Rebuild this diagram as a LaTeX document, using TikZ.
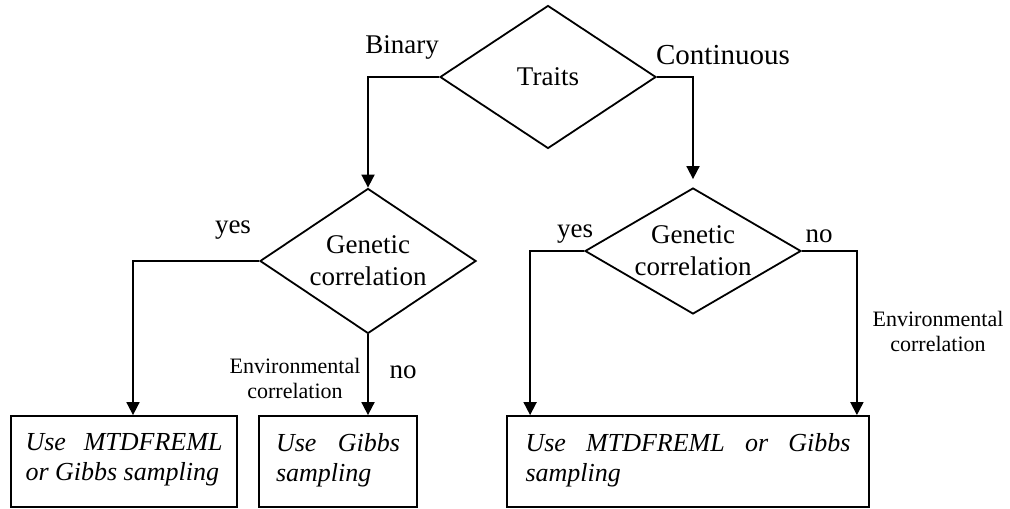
\documentclass[tikz,border=0pt]{standalone}
\usepackage{fontspec}
\setmainfont{Liberation Serif}
\usetikzlibrary{arrows.meta,shapes.geometric}
\newcommand{\restext}[2]{\parbox[c][28.5pt][t]{#1}{\raggedright #2}}

\tikzset{
  dec/.style={diamond, draw, line width=0.9pt, inner sep=0pt, align=center,
    minimum width=108pt, font=\fontsize{13.5}{16}\selectfont},
  res/.style={draw, line width=0.9pt, inner sep=0pt, minimum height=45.5pt,
    font=\fontsize{13}{15}\selectfont\itshape},
  arr/.style={line width=0.9pt, -{Triangle[width=6.5pt,length=6.5pt]}},
  lab/.style={anchor=base, font=\fontsize{13.5}{16}\selectfont},
  envlab/.style={align=center, font=\fontsize{11}{12.5}\selectfont}
}

\begin{document}
\begin{tikzpicture}[x=0.5pt,y=-0.5pt]
  \useasboundingbox (0,0) rectangle (1010,508);

  \node[dec, aspect=1.51, minimum height=71.5pt] (traits) at (548,77) {Traits};
  \node[dec, aspect=1.49, minimum height=72.5pt] (gen1) at (368,261) {Genetic\\correlation};
  \node[dec, aspect=1.71, minimum height=63pt] (gen2) at (693,251) {Genetic\\correlation};

  \node[res, minimum width=113pt] (box1) at (124,461.5) {\restext{98.5pt}{Use\hfill MTDFREML\\or Gibbs sampling}};
  \node[res, minimum width=79pt] (box2) at (338,461.5) {\restext{62pt}{Use\hfill Gibbs\\sampling}};
  \node[res, minimum width=181pt] (box3) at (688,461.5) {\restext{162.5pt}{Use\hfill MTDFREML\hfill or\hfill Gibbs\\sampling}};

  \draw[arr] (traits.west) -| (gen1.north);
  \draw[arr, shorten >=4pt] (traits.east) -| (gen2.north);
  \draw[arr] (gen1.west) -| ([xshift=4.5pt]box1.north);
  \draw[arr] (gen1.south) -- (gen1.south |- box2.north);
  \draw[arr] (gen2.west) -| ([xshift=12pt]box3.north west);
  \draw[arr] (gen2.east) -| ([xshift=-6.5pt]box3.north east);

  \node[lab] (binary) at (402,54) {Binary};
  \node[lab, font=\fontsize{14.5}{16}\selectfont] (cont) at (723,65) {Continuous};
  \node[lab] (yes1) at (233,233) {yes};
  \node[lab] (no1) at (403,378) {no};
  \node[lab] (yes2) at (575,237) {yes};
  \node[lab] (no2) at (819,242) {no};
  \node[envlab] (env1) at (295,378) {Environmental\\correlation};
  \node[envlab] (env2) at (938,331.5) {Environmental\\correlation};
\end{tikzpicture}
\end{document}
